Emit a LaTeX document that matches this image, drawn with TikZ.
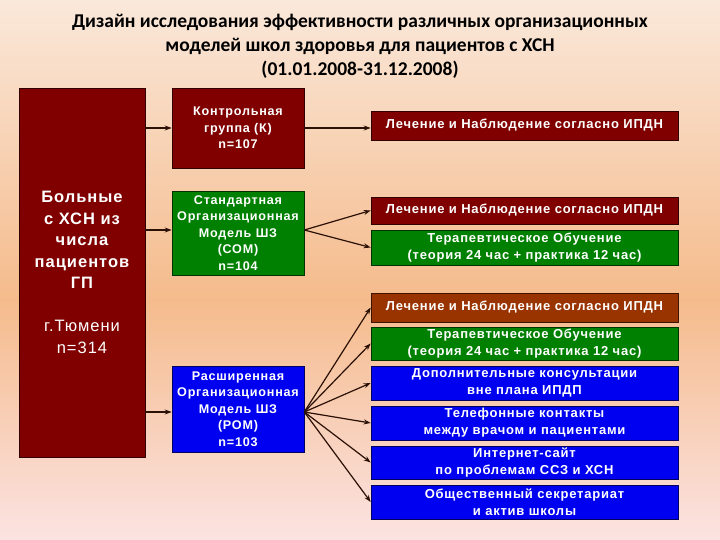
\documentclass[tikz,border=0pt]{standalone}
\usepackage{fontspec}
\setmainfont{Liberation Sans}[LetterSpace=6]
\newfontfamily\titlefont{Carlito}
\usetikzlibrary{arrows.meta}
\definecolor{bgtop}{HTML}{FAE8DA}
\definecolor{bgmid}{HTML}{F5BB8C}
\definecolor{bgbot}{HTML}{FBE3E2}
\definecolor{darkred}{HTML}{800000}
\definecolor{grn}{HTML}{008000}
\definecolor{blu}{HTML}{0000F0}
\definecolor{brn}{HTML}{993300}
\definecolor{arr}{HTML}{2A1005}
\tikzset{
  box/.style={draw=black!60!#1, fill=#1, line width=0.6pt, inner sep=0pt, text=white,
     font=\bfseries\fontsize{12.6}{16.5}\selectfont, align=center},
  rbox/.style={box=#1, minimum width=307, font=\bfseries\fontsize{13}{17}\selectfont},
  conn/.style={draw=arr, line width=1.2pt, -{Stealth[length=7pt,width=5pt]}}
}
\begin{document}
\begin{tikzpicture}[x=1pt,y=-1pt]
\shade[top color=bgtop, bottom color=bgmid] (0,0) rectangle (720,300);
\shade[top color=bgmid, bottom color=bgbot] (0,300) rectangle (720,540);
\useasboundingbox (0,0) rectangle (720,540);
\node[font=\titlefont\bfseries\fontsize{19.5}{24}\selectfont, align=center, text=black] (title) at (360,46)
 {Дизайн исследования эффективности различных организационных\\моделей школ здоровья для пациентов с ХСН\\(01.01.2008-31.12.2008)};
% left box
\node[box=darkred, minimum width=126, minimum height=369, font=\fontsize{16.5}{21.5}\selectfont] (pat) at (82,272.5)
 {\bfseries Больные\\\bfseries с ХСН из\\\bfseries числа\\\bfseries пациентов\\\bfseries ГП\\[21.5pt]г.Тюмени\\n=314};
% middle boxes
\node[box=darkred, minimum width=132, minimum height=80] (ctrl) at (238,128) {Контрольная\\группа (К)\\n=107};
\node[box=grn, minimum width=132, minimum height=84] (som) at (238,233) {Стандартная\\Организационная\\Модель ШЗ\\(СОМ)\\n=104};
\node[box=blu, minimum width=132, minimum height=86] (rom) at (238,409) {Расширенная\\Организационная\\Модель ШЗ\\(РОМ)\\n=103};
% right boxes
\node[rbox=darkred, minimum height=29] (r1) at (524.5,125.5) {Лечение и Наблюдение согласно ИПДН};
\node[rbox=darkred, minimum height=27] (r2) at (524.5,210.5) {Лечение и Наблюдение согласно ИПДН};
\node[rbox=grn, minimum height=35] (r3) at (524.5,247.5) {Терапевтическое Обучение\\(теория 24 час + практика 12 час)};
\node[rbox=brn, minimum height=29] (r4) at (524.5,307.5) {Лечение и Наблюдение согласно ИПДН};
\node[rbox=grn, minimum height=33] (r5) at (524.5,343.5) {Терапевтическое Обучение\\(теория 24 час + практика 12 час)};
\node[rbox=blu, minimum height=34] (r6) at (524.5,383) {Дополнительные консультации\\вне плана ИПДП};
\node[rbox=blu, minimum height=34] (r7) at (524.5,423) {Телефонные контакты\\между врачом и пациентами};
\node[rbox=blu, minimum height=33] (r8) at (524.5,462.5) {Интернет-сайт\\по проблемам ССЗ и ХСН};
\node[rbox=blu, minimum height=34] (r9) at (524.5,502) {Общественный секретариат\\и актив школы};
% connectors
\draw[conn] (pat.east |- ctrl.west) -- (ctrl.west);
\draw[conn] (pat.east |- 0,230) -- (som.west |- 0,230);
\draw[conn] (pat.east |- 0,412) -- (rom.west |- 0,412);
\draw[conn] (ctrl.east) -- (r1.west |- ctrl.east);
\coordinate (sp) at (som.east |- 0,230);
\draw[conn] (sp) -- (r2.west);
\draw[conn] (sp) -- (r3.west);
\coordinate (rp) at (rom.east |- 0,412);
\foreach \r in {r4,r5,r6,r7,r8,r9} \draw[conn] (rp) -- (\r.west);
\end{tikzpicture}
\end{document}
